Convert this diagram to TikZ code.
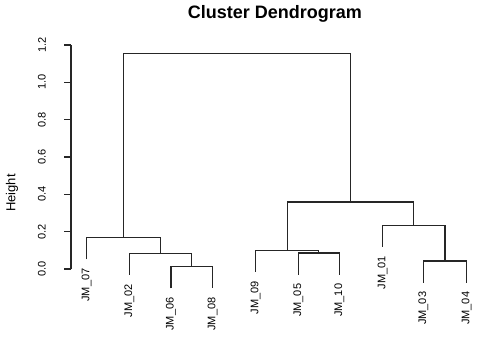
\documentclass[tikz,border=0pt]{standalone}
\usepackage{fontspec}
\setmainfont{Liberation Sans}
\begin{document}
\begin{tikzpicture}[x=1pt,y=-1pt,
  tree/.style={draw=black!85, line width=1.1pt},
  leaflab/.style={rotate=90, anchor=east, inner sep=0pt, font=\fontsize{11}{11}\selectfont},
  ticklab/.style={rotate=90, anchor=south, inner sep=0pt, font=\fontsize{11}{11}\selectfont},
  axisline/.style={draw=black!85, line width=1.1pt}]
\useasboundingbox (0,0) rectangle (480,338);
% title and axis label
\node[font=\fontsize{18}{18}\selectfont\bfseries] (title) at (275,14) {Cluster Dendrogram};
\node[rotate=90, inner sep=0pt, font=\fontsize{13}{13}\selectfont] (ylab) at (12,193) {Height};
% axis
\coordinate (atop) at (71,45);
\coordinate (abot) at (71,269);
\draw[axisline] (atop) -- (abot);
\foreach \v/\lab [count=\i] in {269/0.0, 231.67/0.2, 194.33/0.4, 157/0.6, 119.67/0.8, 82.33/1.0, 45/1.2}{
  \coordinate (t\i) at (71,\v);
  \coordinate (tl\i) at (64,\v);
  \draw[axisline] (t\i) -- (tl\i);
  \node[ticklab] (tk\i) at (46,\v) {\lab};
}
% leaf ends
\coordinate (l07) at (86.7,259.3);
\coordinate (l02) at (129.3,274.9);
\coordinate (l06) at (171,288.3);
\coordinate (l08) at (212.7,288.3);
\coordinate (l09) at (255.7,271.9);
\coordinate (l05) at (298.3,274.6);
\coordinate (l10) at (339.3,274.6);
\coordinate (l01) at (382.7,246.9);
\coordinate (l03) at (423.3,282.6);
\coordinate (l04) at (466.7,282.6);
% merges
\coordinate (m68) at (191.85,266.7);
\coordinate (m2) at (160.6,253.3);
\coordinate (m7) at (123.6,237.7);
\coordinate (m510) at (318.8,253);
\coordinate (m9) at (287.2,250.3);
\coordinate (m34) at (445,261);
\coordinate (m1) at (413.9,225.3);
\coordinate (mR) at (350.5,202);
\coordinate (root) at (237,53.3);
% tree
\draw[tree] (l06) |- (m68) -| (l08);
\draw[tree] (l02) |- (m2) -| (m68);
\draw[tree] (l07) |- (m7) -| (m2);
\draw[tree] (l05) |- (m510) -| (l10);
\draw[tree] (l09) |- (m9) -| (m510);
\draw[tree] (l03) |- (m34) -| (l04);
\draw[tree] (l01) |- (m1) -| (m34);
\draw[tree] (m9) |- (mR) -| (m1);
\draw[tree] (m7) |- (root) -| (mR);
% labels
\foreach \n in {07,02,06,08,09,05,10,01,03,04}{
  \node[leaflab] (lab\n) at ([yshift=-9pt]l\n) {JM\_\n};
}
\end{tikzpicture}
\end{document}
